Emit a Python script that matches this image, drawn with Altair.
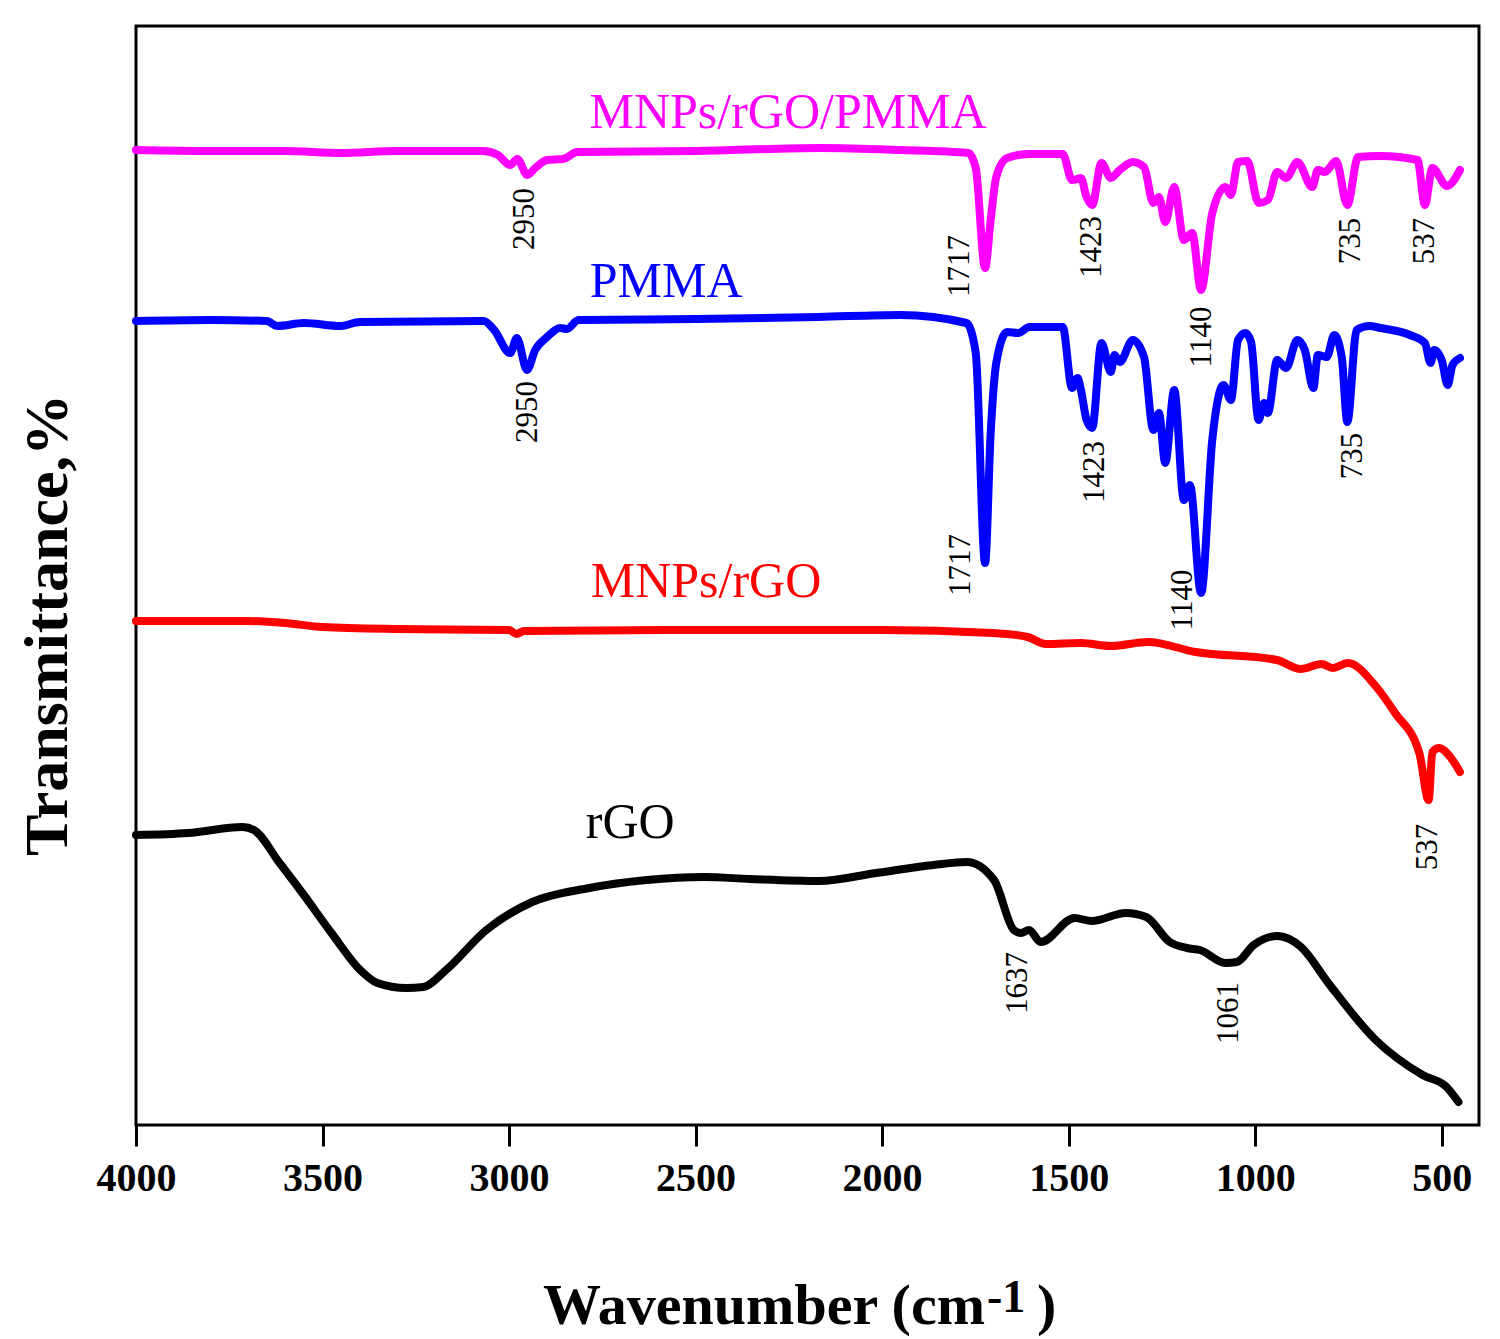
import pandas as pd
import altair as alt

# FTIR spectra (wavenumber in cm-1, transmittance in arbitrary units)
pmma_comp_wn = [4000, 3800, 3600, 3450, 3300, 3070, 3030, 2997, 2978, 2951, 2930, 2898, 2855, 2817,
                2500, 2166, 1952, 1769, 1749, 1724, 1709, 1694, 1665, 1605, 1516, 1491, 1476, 1467,
                1452, 1437, 1412, 1387, 1363, 1328, 1298, 1273, 1258, 1241, 1217, 1191, 1169, 1145,
                1115, 1080, 1065, 1046, 1021, 991, 966, 941, 917, 887, 847, 832, 813, 783, 753, 724,
                664, 565, 545, 525, 486, 451]
pmma_comp_t = [97.5, 97.4, 97.4, 97.2, 97.4, 97.4, 97.0, 96.0, 96.6, 95.0, 95.7, 96.5, 96.6, 97.3,
               97.4, 97.7, 97.5, 97.2, 95.7, 85.7, 90.5, 94.8, 96.7, 97.1, 97.1, 94.5, 94.6, 94.7,
               92.8, 92.0, 96.2, 94.7, 95.5, 96.3, 95.8, 92.2, 92.8, 90.3, 93.8, 88.5, 89.2, 83.5,
               91.2, 93.8, 93.0, 96.3, 96.4, 92.2, 92.5, 95.3, 94.7, 96.3, 93.8, 95.5, 95.3, 96.4,
               92.0, 96.8, 96.9, 96.5, 92.0, 95.7, 93.9, 95.5]

pmma_wn = [4000, 3800, 3650, 3621, 3550, 3452, 3400, 3068, 3040, 2997, 2979, 2952, 2930, 2898,
           2863, 2845, 2814, 2500, 2170, 1952, 1774, 1749, 1724, 1709, 1694, 1665, 1635, 1605,
           1516, 1491, 1476, 1467, 1452, 1437, 1412, 1387, 1377, 1363, 1328, 1298, 1273, 1258,
           1241, 1217, 1191, 1175, 1145, 1115, 1085, 1065, 1046, 1026, 1011, 991, 976, 966, 941,
           917, 887, 867, 844, 832, 808, 788, 768, 753, 728, 694, 664, 585, 545, 530, 520, 500,
           484, 471, 451]
pmma_t = [80.4, 80.5, 80.4, 79.9, 80.2, 79.9, 80.3, 80.4, 79.5, 77.2, 78.7, 75.5, 77.5, 78.8,
          79.7, 79.6, 80.5, 80.6, 80.8, 81.0, 80.2, 77.2, 56.2, 69.2, 76.2, 79.3, 79.2, 79.8,
          79.8, 73.7, 74.7, 73.5, 70.5, 69.7, 78.2, 75.3, 77.0, 76.3, 78.5, 76.8, 69.5, 71.2,
          66.2, 73.5, 62.5, 64.0, 53.2, 68.5, 74.0, 72.5, 78.5, 79.2, 78.3, 70.5, 72.2, 71.2, 76.5,
          75.7, 78.5, 77.5, 73.7, 77.0, 76.8, 79.0, 76.8, 70.3, 79.5, 79.9, 79.7, 79.0, 78.2, 76.2,
          77.5, 76.5, 74.0, 76.0, 76.7]

mnp_wn = [4000, 3700, 3600, 3500, 3300, 3000, 2980, 2960, 2500, 2000, 1704, 1610, 1561, 1467, 1387,
          1287, 1160, 942, 878, 822, 792, 752, 675, 625, 560, 535, 525, 507, 477, 451]
mnp_t = [50.4, 50.4, 50.2, 49.8, 49.6, 49.5, 49.1, 49.4, 49.5, 49.5, 49.2, 48.8, 48.1, 48.2, 47.9,
         48.3, 47.3, 46.5, 45.6, 46.1, 45.7, 46.2, 43.8, 41.2, 37.2, 32.5, 37.3, 37.7, 36.8, 35.3]

rgo_wn = [4000, 3860, 3714, 3684, 3615, 3554, 3476, 3399, 3353, 3276, 3230, 3169, 3061, 2938, 2785,
          2631, 2477, 2354, 2169, 2016, 1862, 1773, 1700, 1647, 1628, 1606, 1575, 1484, 1438, 1347,
          1292, 1229, 1183, 1148, 1080, 1049, 1004, 940, 877, 804, 677, 551, 487, 455]
rgo_t = [29.0, 29.2, 29.8, 29.5, 26.2, 23.2, 19.2, 15.5, 14.2, 13.7, 13.8, 15.5, 19.5, 22.3, 23.7,
         24.5, 24.8, 24.6, 24.4, 25.2, 26.0, 26.3, 24.5, 19.5, 19.2, 19.5, 18.3, 20.7, 20.4, 21.2,
         20.8, 18.3, 17.7, 17.5, 16.2, 16.3, 18.0, 18.9, 17.8, 14.2, 8.5, 5.0, 3.8, 2.3]

series_names = ["MNPs/rGO/PMMA", "PMMA", "MNPs/rGO", "rGO"]
series_colors = ["#FF00FF", "#0000FF", "#FF0000", "#000000"]

# where each series name is written
name_wn = [2252, 2579, 2472, 2675]
name_t = [101.2, 84.3, 54.3, 30.2]

# peak labels
peak_text = ["2950", "1717", "1423", "1140", "735", "537",
             "2950", "1717", "1423", "1140", "735",
             "537", "1637", "1061"]
peak_wn = [2956, 1791, 1438, 1143, 744, 544,
           2950, 1789, 1428, 1194, 739,
           538, 1636, 1071]
peak_t = [90.6, 85.9, 87.8, 78.8, 88.4, 88.4,
          71.3, 56.0, 65.3, 52.5, 66.9,
          27.8, 14.2, 11.2]

x_ticks = [4000, 3500, 3000, 2500, 2000, 1500, 1000, 500]

# build long table
frames = []
for name, wn, t in zip(series_names,
                       [pmma_comp_wn, pmma_wn, mnp_wn, rgo_wn],
                       [pmma_comp_t, pmma_t, mnp_t, rgo_t]):
    frames.append(pd.DataFrame({"wavenumber": wn, "T": t, "sample": name}))
spectra = pd.concat(frames, ignore_index=True)

names_df = pd.DataFrame({"wavenumber": name_wn, "T": name_t, "sample": series_names})
peaks_df = pd.DataFrame({"wavenumber": peak_wn, "T": peak_t, "label": peak_text})

serif = "Liberation Serif"
W, H = 1343, 1099

x_enc = alt.X("wavenumber:Q",
              scale=alt.Scale(domain=[400, 4000], reverse=True, nice=False, zero=False),
              axis=alt.Axis(values=x_ticks, format="d", title=None, grid=False, domain=False,
                            tickColor="black", tickWidth=3, tickSize=21,
                            labelFont=serif, labelFontSize=40, labelFontWeight="bold",
                            labelColor="black", labelPadding=12, labelFlush=False))
y_enc = alt.Y("T:Q", scale=alt.Scale(domain=[0, 109.9], nice=False, zero=False), axis=None)
col_scale = alt.Scale(domain=series_names, range=series_colors)

lines = alt.Chart(spectra).mark_line(
    strokeWidth=8, strokeCap="round", strokeJoin="round", interpolate="monotone"
).encode(
    x=x_enc, y=y_enc,
    color=alt.Color("sample:N", scale=col_scale, legend=None),
    detail="sample:N",
    order=alt.Order("wavenumber:Q", sort="descending"),
)

names = alt.Chart(names_df).mark_text(
    font=serif, fontSize=50, align="center", baseline="middle"
).encode(
    x="wavenumber:Q", y="T:Q", text="sample:N",
    color=alt.Color("sample:N", scale=col_scale, legend=None),
)

peaks = alt.Chart(peaks_df).mark_text(
    font=serif, fontSize=31, angle=270, align="center", baseline="middle", color="black"
).encode(x="wavenumber:Q", y="T:Q", text="label:N")

one = pd.DataFrame({"k": [0]})

# black box round the plot area
frame = alt.Chart(one).mark_rect(
    fill="transparent", stroke="black", strokeWidth=3
).encode(x=alt.value(0), x2=alt.value(W), y=alt.value(0), y2=alt.value(H))

ytitle = alt.Chart(one).mark_text(
    text="Transmittance,%", font=serif, fontSize=62, fontWeight="bold", angle=270,
    align="center", baseline="middle", color="black", x=-88, y=599
)
xtitle_main = alt.Chart(one).mark_text(
    text="Wavenumber (cm", font=serif, fontSize=58, fontWeight="bold",
    align="right", baseline="alphabetic", color="black", x=849, y=1298
)
xtitle_sup = alt.Chart(one).mark_text(
    text="-1", font=serif, fontSize=46, fontWeight="bold",
    align="left", baseline="alphabetic", color="black", x=851, y=1286
)
xtitle_end = alt.Chart(one).mark_text(
    text=")", font=serif, fontSize=58, fontWeight="bold",
    align="left", baseline="alphabetic", color="black", x=901, y=1298
)

chart = alt.layer(frame, lines, names, peaks, ytitle,
                  xtitle_main, xtitle_sup, xtitle_end).properties(
    width=W, height=H,
    autosize=alt.AutoSizeParams(type="none"),
    padding={"left": 128, "top": 18, "right": 5, "bottom": 214},
).configure_view(
    stroke="black", strokeWidth=3
).configure(background="white")

chart.save("out.html", embed_options={"renderer": "svg", "actions": False})
